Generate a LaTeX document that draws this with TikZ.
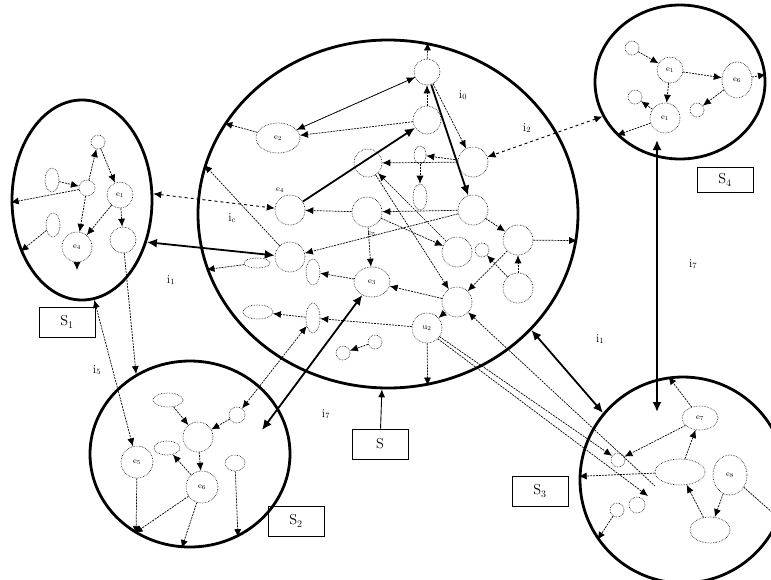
\documentclass[tikz,border=0pt]{standalone}
\usepackage{tikz}
\usetikzlibrary{arrows.meta,shapes.geometric,calc}

\begin{document}
\begin{tikzpicture}[
x=1pt, y=-1pt,
>={Latex[length=8pt,width=7pt]},
bigc/.style={draw, ellipse, line width=2.8pt, inner sep=0pt},
sub/.style={draw, densely dotted, line width=0.6pt, circle, inner sep=0pt, font=\footnotesize},
subell/.style={draw, densely dotted, line width=0.6pt, ellipse, inner sep=0pt, font=\footnotesize},
link/.style={->, dash pattern=on 2pt off 1pt, line width=0.7pt},
twin/.style={<->, dashed, line width=0.9pt},
strong/.style={<->, line width=1.8pt, >={Latex[length=10pt,width=9pt]}},
tag/.style={draw, line width=0.8pt, minimum width=56pt, minimum height=30pt, font=\Large},
lbl/.style={font=\large}
]
\useasboundingbox (0,0) rectangle (771,579);
\clip (0,0) rectangle (771,579);

% --- Systems ---
\node[bigc, minimum width=380pt, minimum height=348pt] (S) at (388,214) {};
\node[bigc, minimum width=140pt, minimum height=200pt] (S1) at (82,200) {};
\node[bigc, minimum width=170pt, minimum height=154pt] (S4) at (680,82) {};
\node[bigc, minimum width=200pt, minimum height=186pt] (S2) at (190,454) {};
\node[bigc, minimum width=206pt, minimum height=206pt] (S3) at (683,480) {};

% --- Name boxes ---
\node[tag] (tS1) at (67,322) {S$_1$};
\node[tag, minimum width=56pt, minimum height=25pt] (tS4) at (725,180) {S$_4$};
\node[tag] (tS2) at (296,521) {S$_2$};
\node[tag] (tS3) at (540,491) {S$_3$};
\node[tag] (tS) at (380,444) {S};

% --- Elements of S ---
\node[sub, minimum size=26pt] (a1) at (427,72) {};
\node[sub, minimum size=28pt] (a2) at (427,120) {};
\node[subell, minimum width=44pt, minimum height=30pt] (e3) at (278,138) {e$_2$};
\node[sub, minimum size=28pt] (a3) at (368,163) {};
\node[subell, minimum width=12pt, minimum height=18pt] (a4) at (420,155) {};
\node[sub, minimum size=30pt] (a5) at (473,162) {};
\node[sub, minimum size=30pt] (e4) at (290,210) {};
\node[font=\footnotesize] (le4) at (280,190) {e$_4$};
\node[sub, minimum size=30pt] (a6) at (367,212) {};
\node[subell, minimum width=14pt, minimum height=26pt] (a7) at (420,197) {};
\node[sub, minimum size=30pt] (a8) at (473,210) {};
\node[sub, minimum size=30pt] (a9) at (518,240) {};
\node[sub, minimum size=30pt] (a10) at (290,257) {};
\node[subell, minimum width=26pt, minimum height=10pt] (a11) at (257,263) {};
\node[subell, minimum width=14pt, minimum height=26pt] (a12) at (313,272) {};
\node[font=\footnotesize] (le5) at (372,234) {e$_5$};
\node[subell, minimum width=36pt, minimum height=30pt] (e5b) at (372,282) {e$_3$};
\node[sub, minimum size=30pt] (a13) at (457,252) {};
\node[sub, minimum size=14pt] (a14) at (482,250) {};
\node[sub, minimum size=30pt] (a15) at (518,288) {};
\node[sub, minimum size=30pt] (a16) at (457,302) {};
\node[subell, minimum width=30pt, minimum height=14pt] (a17) at (258,312) {};
\node[subell, minimum width=14pt, minimum height=30pt] (a18) at (313,318) {};
\node[sub, minimum size=30pt] (u2) at (427,328) {u$_2$};
\node[sub, minimum size=14pt] (a19) at (375,342) {};
\node[sub, minimum size=14pt] (a20) at (343,353) {};

% --- Elements of S1 ---
\node[sub, minimum size=14pt] (p1) at (98,142) {};
\node[subell, minimum width=14pt, minimum height=24pt] (p2) at (52,180) {};
\node[sub, minimum size=16pt] (p3) at (87,188) {};
\node[sub, minimum size=26pt] (e1) at (120,195) {e$_1$};
\node[subell, minimum width=14pt, minimum height=24pt] (p4) at (53,225) {};
\node[sub, minimum size=30pt] (e4s) at (77,247) {e$_4$};
\node[sub, minimum size=26pt] (p5) at (123,240) {};

% --- Elements of S4 ---
\node[sub, minimum size=14pt] (q1) at (632,48) {};
\node[sub, minimum size=26pt] (q2) at (670,70) {e$_1$};
\node[subell, minimum width=30pt, minimum height=36pt] (q3) at (737,80) {e$_6$};
\node[sub, minimum size=14pt] (q4) at (635,97) {};
\node[sub, minimum size=30pt] (q5) at (665,118) {e$_1$};
\node[sub, minimum size=14pt] (q6) at (697,110) {};

% --- Elements of S2 ---
\node[subell, minimum width=30pt, minimum height=14pt] (r1) at (168,400) {};
\node[sub, minimum size=30pt] (r2) at (198,437) {};
\node[sub, minimum size=16pt] (r3) at (237,415) {};
\node[subell, minimum width=26pt, minimum height=14pt] (r4) at (167,448) {};
\node[sub, minimum size=32pt] (e5s) at (137,462) {e$_5$};
\node[sub, minimum size=32pt] (e6s) at (202,487) {e$_6$};
\node[subell, minimum width=20pt, minimum height=16pt] (r5) at (235,463) {};

% --- Elements of S3 ---
\node[subell, minimum width=36pt, minimum height=24pt] (e7) at (700,418) {e$_7$};
\node[subell, minimum width=50pt, minimum height=26pt] (t1) at (680,472) {};
\node[subell, minimum width=34pt, minimum height=40pt] (e8) at (730,475) {e$_8$};
\node[subell, minimum width=40pt, minimum height=26pt] (t2) at (710,530) {};
\node[sub, minimum size=14pt] (t3) at (618,460) {};
\node[sub, minimum size=14pt] (t4) at (617,510) {};
\node[sub, minimum size=16pt] (t5) at (637,505) {};

% --- Interaction labels ---
\node[lbl] (i0) at (463,95) {i$_0$};
\node[lbl] (i2) at (527,128) {i$_2$};
\node[lbl] (ic) at (232,218) {i$_c$};
\node[lbl] (i1) at (171,280) {i$_1$};
\node[lbl] (i5) at (97,370) {i$_5$};
\node[lbl] (i7) at (326,414) {i$_7$};
\node[lbl] (i1b) at (600,339) {i$_1$};
\node[lbl] (i7b) at (693,264) {i$_7$};

% --- Free ends ---
\coordinate (v4) at (657,140);
\coordinate (v3) at (657,412);
\coordinate (k2) at (262,430);
\coordinate (d1) at (77,270);
\coordinate (m1) at (648,496);
\coordinate (m2) at (655,486);

% --- Links inside S ---
\draw[link] (a1) -- (e3);
\draw[link] (a2) -- (e3);
\draw[link] (e3) -- (S.151);
\draw[link] (a1) -- (a5);
\draw[strong, ->] (a1) -- (a8);
\draw[link] (a2) -- (a1);
\draw[strong, ->] (e4) -- (a2);
\draw[link] (a1) -- (S.77);
\draw[link] (e3) -- (a1);
\draw[link] (a5) -- (a3);
\draw[link] (a5) -- (a4);
\draw[link] (a8) -- (a6);
\draw[link] (a6) -- (e4);
\draw[link] (a8) -- (a10);
\draw[link] (a13) -- (a3);
\draw[link] (a4) -- (a7);
\draw[link] (a8) -- (a9);
\draw[link] (a9) -- (S.352);
\draw[link] (a6) -- (a13);
\draw[link] (a15) -- (a9);
\draw[link] (a15) -- (a14);
\draw[link] (a9) -- (a16);
\draw[link] (a3) -- (a16);
\draw[link] (a16) -- (e5b);
\draw[link] (a6) -- (e5b);
\draw[link] (e5b) -- (a12);
\draw[link] (a11) -- (S.197);
\draw[link] (a18) -- (a17);
\draw[link] (u2) -- (a18);
\draw[link] (a19) -- (a20);
\draw[link] (a16) -- (u2);
\draw[link] (u2) -- (S.283);
\draw[link] (a10) -- (S.165);

% --- Links inside S1 ---
\draw[link] (p3) -- (p1);
\draw[link] (p1) -- (e1);
\draw[link] (p2) -- (p3);
\draw[link] (p3) -- (e4s);
\draw[link] (e4s) -- (d1);
\draw[link] (e1) -- (p5);
\draw[link] (e1) -- (e4s);
\draw[link] (p3) -- (S1.182);
\draw[link] (p4) -- (S1.220);

% --- Links inside S4 ---
\draw[link] (q1) -- (q2);
\draw[link] (q2) -- (q3);
\draw[link] (q3) -- (S4.5);
\draw[link] (q5) -- (q4);
\draw[link] (q2) -- (q5);
\draw[link] (q3) -- (q6);
\draw[link] (q5) -- (S4.220);

% --- Links inside S2 ---
\draw[link] (r1) -- (r2);
\draw[link] (r3) -- (r2);
\draw[link] (r2) -- (e6s);
\draw[link] (e6s) -- (r4);
\draw[link] (e6s) -- (S2.235);
\draw[link] (e6s) -- (S2.265);
\draw[link] (r5) -- (S2.300);
\draw[link] (e5s) -- (S2.236);

% --- Links inside S3 ---
\draw[link] (e7) -- (S3.98);
\draw[link] (t1) -- (e7);
\draw[link] (e7) -- (t3);
\draw[link] (t1) -- (S3.178);
\draw[link] (t4) -- (S3.215);
\draw[link] (t2) -- (t1);
\draw[link] (e8) -- (t2);
\draw[link] (e8) -- (S3.338);

% --- Links between systems ---
\draw[twin] (S1.5) -- (e4);
\draw[strong] (S1.327) -- (a10);
\draw[twin] (S4.204) -- (a5);
\draw[strong] (v4) -- (v3);
\draw[strong] (S.321) -- (S3.140);
\draw[strong] (k2) -- (e5b);
\draw[link, <->] (S1.277) -- (e5s);
\draw[link] (p5) -- (S2.124);
\draw[link, <->] (r3) -- (a18);
\draw[link] (u2) -- (t3);
\draw[link] (u2.south east) -- (m1);
\draw[link, <-] (a16) -- (m2);
\draw[-{Latex[length=8pt,width=7pt]}, line width=0.9pt] (tS) -- (S);

\end{tikzpicture}
\end{document}
